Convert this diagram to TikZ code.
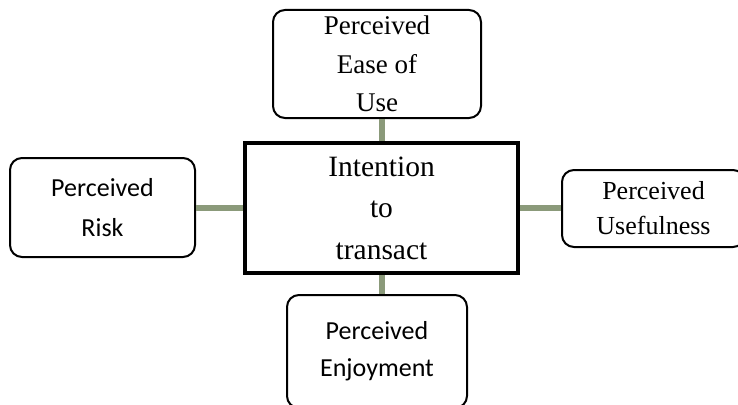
\documentclass[tikz,border=0pt]{standalone}
\usepackage{fontspec}
\setmainfont{Liberation Serif}
\newfontfamily\calfont{Carlito}
\definecolor{linkgreen}{RGB}{139,154,122}
\begin{document}
\begin{tikzpicture}[x=1pt,y=-1pt,
  factor/.style={draw=black,line width=2pt,rounded corners=12pt,inner sep=0pt,align=center},
  core/.style={draw=black,line width=4pt,inner sep=0pt,align=center},
  link/.style={draw=linkgreen,line width=6pt}]
\useasboundingbox (0,0) rectangle (738,404);
\node[core,minimum width=273pt,minimum height=130pt,font=\fontsize{29.5}{41.5}\selectfont] (c) at (381.5,208) {Intention\\to\\transact};
\node[factor,minimum width=208pt,minimum height=108pt,font=\fontsize{27}{38.5}\selectfont] (t) at (377,64) {Perceived\\Ease of\\Use};
\node[factor,minimum width=185pt,minimum height=99pt,font=\calfont\fontsize{26}{40}\selectfont] (l) at (102.5,207.5) {Perceived\\Risk};
\node[factor,minimum width=183pt,minimum height=77pt,font=\fontsize{26}{35}\selectfont] (r) at (653.5,208.5) {Perceived\\Usefulness};
\node[factor,minimum width=180pt,minimum height=113pt,font=\calfont\fontsize{26}{37}\selectfont] (b) at (377,351.5) {Perceived\\Enjoyment};
\draw[link] (c.north) -- (c.north |- t.south);
\draw[link] (c.south) -- (c.south |- b.north);
\draw[link] (c.west) -- (l.east |- c.west);
\draw[link] (c.east) -- (r.west |- c.east);
\end{tikzpicture}
\end{document}
